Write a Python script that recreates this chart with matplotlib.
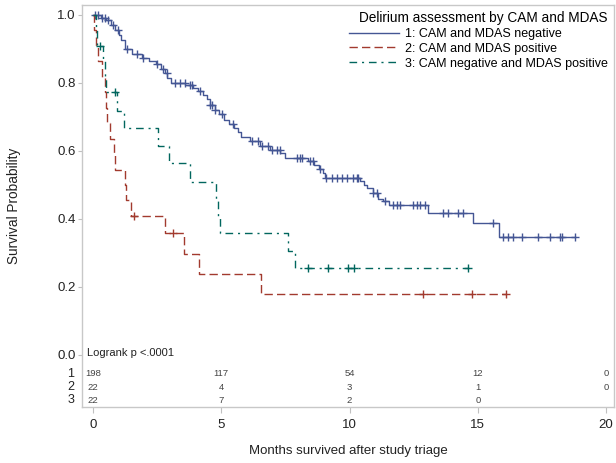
import numpy as np
import matplotlib
matplotlib.use("Agg")
import matplotlib.pyplot as plt
from matplotlib.lines import Line2D

plt.rcParams['font.family'] = ['Liberation Sans', 'DejaVu Sans']

# ---------------- data ----------------
group_labels = ["1: CAM and MDAS negative", "2: CAM and MDAS positive",
                "3: CAM negative and MDAS positive"]
legend_title = "Delirium assessment by CAM and MDAS"

blue_t = [0, 0.3, 0.5, 0.7, 0.85, 1.0, 1.1, 1.25, 1.5, 1.9, 2.2, 2.45, 2.65, 2.8, 2.9,
          3.05, 3.6, 3.9, 4.1, 4.3, 4.45, 4.55, 4.75, 4.9, 5.1, 5.3, 5.5, 5.65, 5.75,
          6.1, 6.5, 6.9, 7.3, 7.5, 8.4, 8.6, 8.8, 8.95, 9.05, 10.4, 10.55, 10.7, 10.9,
          11.1, 11.3, 11.55, 13.05, 14.83, 15.82]
blue_s = [1.0, 0.99, 0.985, 0.97, 0.955, 0.94, 0.925, 0.90, 0.885, 0.872, 0.865, 0.855,
          0.84, 0.828, 0.815, 0.80, 0.793, 0.786, 0.775, 0.765, 0.752, 0.735, 0.72,
          0.708, 0.692, 0.68, 0.668, 0.655, 0.642, 0.628, 0.614, 0.604, 0.594, 0.579,
          0.57, 0.56, 0.548, 0.535, 0.52, 0.512, 0.5, 0.49, 0.475, 0.46, 0.452, 0.441,
          0.417, 0.387, 0.347]
blue_end = 18.79
blue_cens = [0.08, 0.21, 0.34, 0.47, 0.6, 0.79, 0.99, 1.31, 1.7, 1.96, 2.48, 2.74, 2.87,
             3.2, 3.39, 3.59, 3.78, 3.85, 4.17, 4.56, 4.63, 4.76, 5.02, 5.47, 6.19, 6.44,
             6.57, 6.83, 6.96, 7.16, 7.29, 7.94, 8.07, 8.14, 8.46, 8.59, 8.85, 9.1, 9.3,
             9.5, 9.7, 9.89, 10.15, 10.28, 10.34, 10.93, 11.06, 11.38, 11.71, 11.84,
             11.97, 12.49, 12.62, 12.75, 12.94, 13.65, 13.84, 14.23, 14.43, 15.6, 16.0,
             16.19, 16.39, 16.71, 17.36, 17.82, 18.21, 18.27, 18.79]

red_t = [0, 0.05, 0.1, 0.2, 0.35, 0.47, 0.5, 0.55, 0.66, 0.8, 0.85, 1.25, 1.3, 1.47,
         2.81, 3.56, 4.13, 6.55]
red_s = [1.0, 0.955, 0.909, 0.864, 0.818, 0.773, 0.727, 0.682, 0.636, 0.591, 0.545,
         0.5, 0.455, 0.409, 0.358, 0.298, 0.239, 0.179]
red_end = 16.09
red_cens = [1.6, 3.13, 12.85, 14.76, 16.09]

green_t = [0, 0.1, 0.15, 0.4, 0.45, 0.52, 0.92, 1.2, 2.55, 2.98, 3.78, 4.78, 4.86,
           4.95, 7.62, 7.88]
green_s = [1.0, 0.955, 0.909, 0.864, 0.818, 0.773, 0.716, 0.667, 0.613, 0.564, 0.51,
           0.459, 0.408, 0.358, 0.306, 0.255]
green_end = 14.63
green_cens = [0.27, 0.84, 8.37, 9.15, 9.93, 10.19, 14.63]

risk_times = [0, 5, 10, 15, 20]
risk_1 = ["198", "117", "54", "12", "0"]
risk_2 = ["22", "4", "3", "1", "0"]
risk_3 = ["22", "7", "2", "0", ""]
risk_rows = ["1", "2", "3"]

x_ticks = [0, 5, 10, 15, 20]
y_ticks = [0.0, 0.2, 0.4, 0.6, 0.8, 1.0]

colors = ["#445694", "#A23A2E", "#01665E"]

# ---------------- figure ----------------
W, H = 616, 463
fig = plt.figure(figsize=(W / 100, H / 100), dpi=100)
ax = fig.add_axes([82 / W, (H - 407) / H, (614 - 82) / W, (407 - 5) / H])
ax.set_xlim(-0.43, 20.31)
ax.set_ylim(-0.153, 1.029)

styles = [dict(linestyle='-'),
          dict(linestyle=(0, (6, 3))),
          dict(linestyle=(0, (5.5, 3.5, 1.5, 3.5)))]

curves = [(blue_t, blue_s, blue_end, blue_cens),
          (red_t, red_s, red_end, red_cens),
          (green_t, green_s, green_end, green_cens)]

handles = []
for (t, s, end, cens), col, st, lab in zip(curves, colors, styles, group_labels):
    t = np.asarray(t, float)
    s = np.asarray(s, float)
    xs = np.append(t, end)
    ys = np.append(s, s[-1])
    ax.step(xs, ys, where='post', color=col, lw=1.0, **st)
    c = np.asarray(cens, float)
    idx = np.searchsorted(t, c, side='right') - 1
    ax.plot(c, s[idx], linestyle='none', marker='+', markersize=6, mew=1.0, color=col)
    handles.append(Line2D([], [], color=col, lw=1.0, **st))

leg = ax.legend(handles, group_labels, title=legend_title, loc='upper right',
                bbox_to_anchor=(1.0, 1.0), frameon=False, fontsize=9,
                title_fontsize=9.8, handlelength=4.0, handletextpad=0.45,
                labelspacing=0.22, borderaxespad=0.2, borderpad=0.3)
leg._legend_box.align = "right"

# axes styling
for sp in ax.spines.values():
    sp.set_color('#c8c8c8')
    sp.set_linewidth(1.0)
ax.set_xticks(x_ticks)
ax.set_yticks(y_ticks)
ax.set_yticklabels([f"{v:.1f}" for v in y_ticks])
ax.tick_params(axis='both', colors='#c0c0c0', labelcolor='#222222', labelsize=9.5,
               length=4, width=0.8)
ax.tick_params(axis='x', pad=5)
ax.tick_params(axis='y', length=3, pad=1.5)
ax.set_xlabel("Months survived after study triage", fontsize=9.5, color='#222222',
              labelpad=10)
ax.set_ylabel("Survival Probability", fontsize=9.8, color='#222222', labelpad=26)

ax.text(-0.23, 0.006, "Logrank p <.0001", fontsize=8, color='#222222',
        ha='left', va='center')

row_y = [-0.055, -0.095, -0.133]
for yy, lbl, vals in zip(row_y, risk_rows, [risk_1, risk_2, risk_3]):
    ax.text(-0.015, yy, lbl, transform=ax.get_yaxis_transform(), ha='right',
            va='center', fontsize=9, color='#222222')
    for xt, v in zip(risk_times, vals):
        ax.text(xt, yy, v, ha='center', va='center', fontsize=6.8, color='#444444')

fig.savefig("out.png", dpi=100)
